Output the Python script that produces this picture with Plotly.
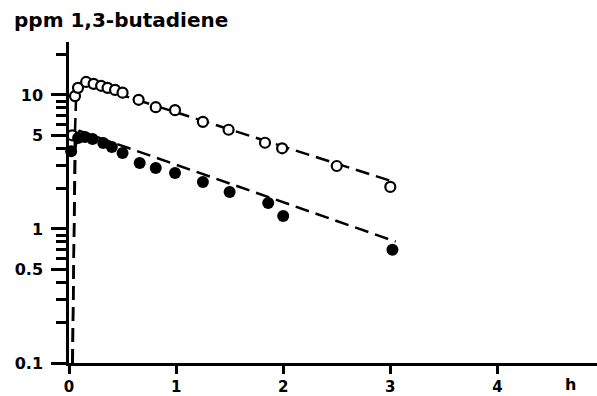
import plotly.graph_objects as go

# Measured points (time in h, concentration in ppm)
t_open = [0.03, 0.056, 0.084, 0.16, 0.23, 0.30, 0.36, 0.43, 0.50, 0.65, 0.81, 0.99, 1.25, 1.49, 1.83, 1.99, 2.50, 3.00]
c_open = [5.0, 9.8, 11.3, 12.5, 12.1, 11.7, 11.3, 10.9, 10.4, 9.2, 8.1, 7.7, 6.3, 5.5, 4.4, 4.0, 2.95, 2.06]

t_filled = [0.02, 0.085, 0.15, 0.22, 0.32, 0.40, 0.50, 0.66, 0.81, 0.99, 1.25, 1.50, 1.86, 2.00, 3.02]
c_filled = [3.8, 4.78, 4.86, 4.70, 4.38, 4.09, 3.69, 3.11, 2.85, 2.62, 2.24, 1.89, 1.56, 1.25, 0.70]

# Dashed fitted curves
t_fit_open = [0.035, 0.045, 0.055, 0.065, 0.09, 0.15, 0.30, 0.58, 1.0, 1.5, 2.0, 2.5, 3.03]
c_fit_open = [0.1, 1.0, 5.0, 9.0, 11.0, 12.2, 11.2, 9.5, 7.42, 5.53, 4.12, 3.07, 2.25]

t_fit_filled = [0.03, 0.045, 0.06, 0.08, 0.10, 0.20, 0.50, 1.0, 1.5, 2.0, 2.5, 3.05]
c_fit_filled = [0.1, 1.0, 4.0, 5.2, 5.39, 5.05, 4.16, 3.01, 2.19, 1.58, 1.15, 0.805]

x_ticks = [0, 1, 2, 3, 4]
y_major = [0.1, 0.5, 1, 5, 10]
y_major_text = ["0.1", "0.5", "1", "5", "10"]
y_minor = [0.2, 0.3, 0.4, 0.6, 0.7, 0.8, 0.9, 2, 3, 4, 6, 7, 8, 9, 20]

FONT = "DejaVu Sans"

fig = go.Figure()
fig.add_trace(go.Scatter(x=t_fit_open, y=c_fit_open, mode="lines",
                         line=dict(color="black", width=2.5, dash="14px,7px"),
                         cliponaxis=False, hoverinfo="skip"))
fig.add_trace(go.Scatter(x=t_fit_filled, y=c_fit_filled, mode="lines",
                         line=dict(color="black", width=2.5, dash="14px,7px"),
                         cliponaxis=False, hoverinfo="skip"))
fig.add_trace(go.Scatter(x=t_open, y=c_open, mode="markers",
                         marker=dict(symbol="circle", size=10, color="white",
                                     line=dict(color="black", width=2.2)),
                         cliponaxis=False))
fig.add_trace(go.Scatter(x=t_filled, y=c_filled, mode="markers",
                         marker=dict(symbol="circle", size=12, color="black",
                                     line=dict(color="black", width=0)),
                         cliponaxis=False))

fig.update_layout(
    width=597, height=396,
    margin=dict(l=69, r=0, t=42, b=33, autoexpand=False),
    plot_bgcolor="white", paper_bgcolor="white",
    showlegend=False,
    xaxis=dict(range=[0, 4.93], showgrid=False, zeroline=False, automargin=False,
               showline=True, linecolor="black", linewidth=2.5,
               tickmode="array", tickvals=x_ticks, ticktext=[str(v) for v in x_ticks],
               ticks="outside", ticklen=8, tickwidth=2.5, tickcolor="black",
               tickfont=dict(family=FONT, size=15, color="black", weight="bold")),
    yaxis=dict(type="log", range=[-1, 1.395], showgrid=False, zeroline=False, automargin=False,
               showline=True, linecolor="black", linewidth=2.5,
               tickmode="array", tickvals=y_major, ticktext=y_major_text,
               ticks="outside", ticklen=15, tickwidth=2.5, tickcolor="black",
               tickfont=dict(family=FONT, size=16, color="black", weight="bold"),
               ticklabelstandoff=5,
               minor=dict(tickmode="array", tickvals=y_minor, ticks="outside",
                          ticklen=10, tickwidth=2.5, tickcolor="black", showgrid=False)),
    annotations=[
        dict(text="ppm 1,3-butadiene", xref="paper", yref="paper",
             x=-0.108, y=1.069, xanchor="left", yanchor="middle", showarrow=False,
             font=dict(family=FONT, size=20, color="black", weight="bold")),
        dict(text="h", xref="x", yref="paper", x=4.68, y=-0.068,
             xanchor="center", yanchor="middle", showarrow=False,
             font=dict(family=FONT, size=16, color="black", weight="bold")),
    ],
)

fig.write_html("out.html", config={"displayModeBar": False},
               post_script="document.body.style.margin='0';")
